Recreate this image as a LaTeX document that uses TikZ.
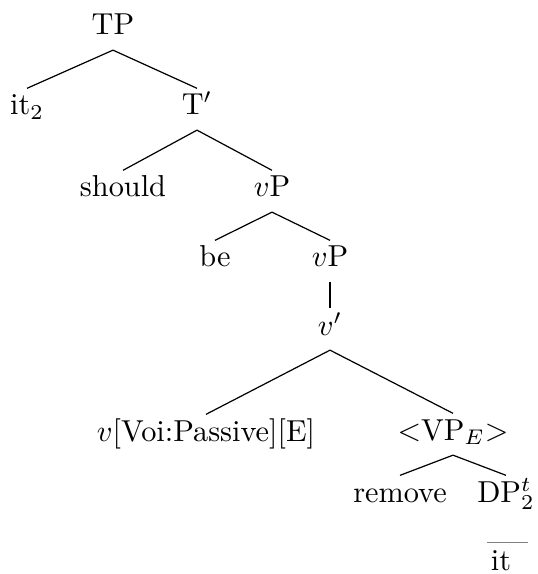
\documentclass[tikz,border=0pt]{standalone}
\begin{document}
\begin{tikzpicture}[every node/.style={anchor=base,text height=6pt,text depth=2.2pt,inner ysep=2.6pt}]
\def\ds{0.33pt}
\def\punkt#1#2{({(#1)*\ds},{-(#2)*\ds})}
\useasboundingbox \punkt{0}{0} rectangle \punkt{537}{574};
\node (tp) at \punkt{113}{35} {TP};
\node (it) at \punkt{27}{115} {it$_2$};
\node (tbar) at \punkt{197}{115} {T$'$};
\node (should) at \punkt{123}{197} {should};
\node (vpa) at \punkt{272}{197} {$v$P};
\node (be) at \punkt{215}{267} {be};
\node (vpb) at \punkt{330}{267} {$v$P};
\node (vbar) at \punkt{330}{335} {$v'$};
\node (voi) at \punkt{206}{441} {$v$[Voi:Passive][E]};
\node (vpe) at \punkt{453}{440} {$<$VP$_E$$>$};
\node (remove) at \punkt{400}{502} {remove};
\node (dp) at \punkt{506}{502} {DP$^t_2$};
\node (itt) at \punkt{501}{570} {it};
\foreach \a/\b in {tp/it,tp/tbar,tbar/should,tbar/vpa,vpa/be,vpa/vpb,vpb/vbar,vbar/voi,vbar/vpe,vpe/remove,vpe/dp}{
	\draw (\a.south) -- (\b.north);
}
\draw[gray] ([xshift=-4.6pt,yshift=0.3pt]itt.north) -- ([xshift=8.9pt,yshift=0.3pt]itt.north);
\end{tikzpicture}
\end{document}
